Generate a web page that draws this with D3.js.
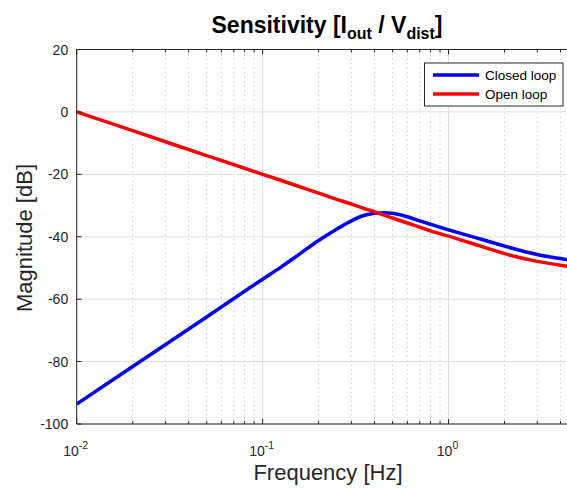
<!DOCTYPE html>
<html>
<head>
<meta charset="utf-8">
<script src="https://cdn.jsdelivr.net/npm/d3@7"></script>
<style>
html,body{margin:0;padding:0;background:#fff;}
svg{display:block;font-family:"Liberation Sans",Arial,sans-serif;}
</style>
</head>
<body>
<svg id="chart" width="567" height="489"></svg>
<script>
// ---- data ----
const freq       = [0.01, 0.02, 0.05, 0.1, 0.125, 0.15, 0.2, 0.25, 0.3, 0.35, 0.4, 0.45, 0.5, 0.6, 0.7, 0.8, 1, 1.5, 2, 3, 4, 4.5];
const closedLoop = [-93.6, -81.6, -65.7, -53.6, -49.8, -46.5, -41.2, -37.6, -34.9, -33.2, -32.5, -32.3, -32.5, -33.6, -34.9, -36.0, -37.8, -40.8, -43.0, -45.7, -47.0, -47.5];
const openLoop   = [0.0, -6.0, -14.0, -20.0, -21.9, -23.5, -26.0, -28.0, -29.5, -30.9, -32.0, -33.1, -34.0, -35.6, -36.9, -38.1, -39.8, -43.1, -45.4, -47.9, -49.1, -49.6];
const seriesNames = ["Closed loop", "Open loop"];
const yTicks = [-100, -80, -60, -40, -20, 0, 20];
const xMajor = [0.01, 0.1, 1];
const xExponents = ["-2", "-1", "0"];

const svg = d3.select("#chart");
const L = 76.7, R = 570, T = 49.5, B = 424;
const x = d3.scaleLog().domain([0.01, 4.5]).range([L, R]);
const y = d3.scaleLinear().domain([-100, 20]).range([B, T]);
const axisColor = "#262626";

svg.append("defs").append("clipPath").attr("id", "clip")
  .append("rect").attr("x", L).attr("y", T).attr("width", R - L).attr("height", B - T);

const grid = svg.append("g");
const allX = x.ticks().filter(v => v >= 0.01 && v <= 4.5);
allX.forEach(v => {
  const isMajor = xMajor.some(m => Math.abs(m - v) < 1e-9);
  grid.append("line")
    .attr("x1", x(v)).attr("x2", x(v)).attr("y1", T).attr("y2", B)
    .attr("stroke", isMajor ? "#dcdcdc" : "#d2d2d2")
    .attr("stroke-width", 1)
    .attr("stroke-dasharray", isMajor ? null : "1.5,3");
});
yTicks.forEach(v => {
  grid.append("line")
    .attr("x1", L).attr("x2", R).attr("y1", y(v)).attr("y2", y(v))
    .attr("stroke", "#dcdcdc").attr("stroke-width", 1);
});

const line = d3.line().x(d => x(d[0])).y(d => y(d[1])).curve(d3.curveMonotoneX);
const plot = svg.append("g").attr("clip-path", "url(#clip)");
plot.append("path").datum(freq.map((f, i) => [f, closedLoop[i]]))
  .attr("d", line).attr("fill", "none").attr("stroke", "#0000ff").attr("stroke-width", 3.5);
plot.append("path").datum(freq.map((f, i) => [f, openLoop[i]]))
  .attr("d", line).attr("fill", "none").attr("stroke", "#ff0000").attr("stroke-width", 3.5);

svg.append("line").attr("x1", L).attr("x2", L).attr("y1", T).attr("y2", B).attr("stroke", axisColor);
svg.append("line").attr("x1", L).attr("x2", R).attr("y1", B).attr("y2", B).attr("stroke", axisColor);
svg.append("line").attr("x1", L).attr("x2", R).attr("y1", T).attr("y2", T).attr("stroke", axisColor);

allX.forEach(v => {
  const isMajor = xMajor.some(m => Math.abs(m - v) < 1e-9);
  const len = isMajor ? 5 : 3;
  svg.append("line").attr("x1", x(v)).attr("x2", x(v)).attr("y1", B).attr("y2", B - len).attr("stroke", axisColor);
  svg.append("line").attr("x1", x(v)).attr("x2", x(v)).attr("y1", T).attr("y2", T + len).attr("stroke", axisColor);
});
yTicks.forEach(v => {
  svg.append("line").attr("x1", L).attr("x2", L + 5).attr("y1", y(v)).attr("y2", y(v)).attr("stroke", axisColor);
});

yTicks.forEach(v => {
  svg.append("text").attr("x", L - 8.5).attr("y", y(v) + 5)
    .attr("text-anchor", "end").attr("font-size", 14).attr("fill", axisColor)
    .text(v);
});
xMajor.forEach((v, i) => {
  const t = svg.append("text").attr("x", x(v) - 1).attr("y", 456)
    .attr("text-anchor", "middle").attr("font-size", 14).attr("fill", axisColor);
  t.append("tspan").text("10");
  t.append("tspan").attr("dy", -7).attr("font-size", 10.5).text(xExponents[i]);
});

svg.append("text").attr("x", 328).attr("y", 479.5)
  .attr("text-anchor", "middle").attr("font-size", 22).attr("fill", axisColor)
  .text("Frequency [Hz]");
svg.append("text").attr("transform", "translate(32,238) rotate(-90)")
  .attr("text-anchor", "middle").attr("font-size", 22).attr("fill", axisColor)
  .text("Magnitude [dB]");

const title = svg.append("text").attr("x", 327).attr("y", 33)
  .attr("text-anchor", "middle").attr("font-size", 23).attr("font-weight", "bold").attr("fill", "#000");
title.append("tspan").text("Sensitivity [I");
title.append("tspan").attr("dy", 6).attr("font-size", 16).text("out");
title.append("tspan").attr("dy", -6).text(" / V");
title.append("tspan").attr("dy", 6).attr("font-size", 16).text("dist");
title.append("tspan").attr("dy", -6).text("]");

const lg = svg.append("g");
lg.append("rect").attr("x", 424.5).attr("y", 63).attr("width", 138.5).attr("height", 43)
  .attr("fill", "#fff").attr("stroke", axisColor).attr("stroke-width", 1);
const colors = ["#0000ff", "#ff0000"];
seriesNames.forEach((n, i) => {
  const yy = 75 + i * 19;
  lg.append("line").attr("x1", 433).attr("x2", 479).attr("y1", yy).attr("y2", yy)
    .attr("stroke", colors[i]).attr("stroke-width", 3.5);
  lg.append("text").attr("x", 485).attr("y", yy + 5).attr("font-size", 13.5).attr("fill", "#000").text(n);
});
</script>
</body>
</html>
